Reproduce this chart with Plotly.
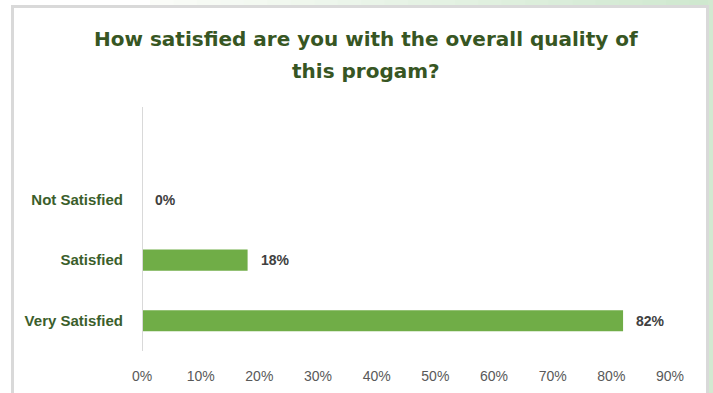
import plotly.graph_objects as go

# Survey responses
categories = ["Very Satisfied", "Satisfied", "Not Satisfied"]
shares = [0.82, 0.18, 0.0]
tick_values = [0, 0.1, 0.2, 0.3, 0.4, 0.5, 0.6, 0.7, 0.8, 0.9]
title_lines = ["How satisfied are you with the overall quality of", "this progam?"]

W, H = 713, 393
L, R, T, B = 142, 43, 107, 42
PW, PH = W - L - R, H - T - B


def px(x):
    return (x - L) / PW


def py(y):
    return 1 - (y - T) / PH


positions = list(range(len(categories)))

fig = go.Figure()
fig.add_trace(go.Bar(
    x=shares,
    y=positions,
    orientation="h",
    width=0.35,
    marker=dict(color="#70AD47", line=dict(width=0)),
    hoverinfo="skip",
))

annotations = []
# value labels just past the end of each bar
for v, p in zip(shares, positions):
    annotations.append(dict(
        x=v, y=p, xref="x", yref="y", xanchor="left", yanchor="middle",
        xshift=11, showarrow=False, text=f"{v:.0%}",
        font=dict(family="Liberation Sans", size=14, color="#404040", weight="bold"),
    ))
# two-line centred title
for i, line in enumerate(title_lines):
    annotations.append(dict(
        x=px(366), y=py(39 + 32 * i), xref="paper", yref="paper",
        xanchor="center", yanchor="middle", showarrow=False, text=line,
        font=dict(family="DejaVu Sans", size=20, color="#375623", weight="bold"),
    ))

shapes = []
# soft green frame along the top edge, fading in from the left
steps = 24
for i in range(steps):
    t = i / (steps - 1)
    a = 250 - t * (250 - 207)
    g = 252 - t * (252 - 232)
    c = 248 - t * (248 - 207)
    xa = 150 + i * (W - 150) / steps
    xb = 150 + (i + 1) * (W - 150) / steps + 1
    shapes.append(dict(type="rect", xref="paper", yref="paper",
                       x0=px(xa), x1=px(xb), y0=py(6), y1=py(-1),
                       fillcolor=f"rgb({a:.0f},{g:.0f},{c:.0f})",
                       line=dict(width=0), layer="below"))
# green strip on the right edge
shapes.append(dict(type="rect", xref="paper", yref="paper",
                   x0=px(708), x1=px(W + 1), y0=py(H + 1), y1=py(-1),
                   fillcolor="#D2E9D0", line=dict(width=0), layer="below"))
# white chart box with grey border
shapes.append(dict(type="rect", xref="paper", yref="paper",
                   x0=px(12.5), x1=px(707.5), y0=py(H + 30), y1=py(6.5),
                   fillcolor="white", line=dict(color="#D9D9D9", width=3),
                   layer="below"))
# vertical category axis line
shapes.append(dict(type="line", xref="x", yref="paper", x0=0, x1=0, y0=0, y1=1,
                   line=dict(color="#D9D9D9", width=2)))

fig.update_layout(
    width=W, height=H,
    margin=dict(l=L, r=R, t=T, b=B),
    paper_bgcolor="white",
    plot_bgcolor="rgba(0,0,0,0)",
    showlegend=False,
    shapes=shapes,
    annotations=annotations,
    xaxis=dict(
        range=[0, 0.9],
        tickvals=tick_values,
        tickformat=".0%",
        showgrid=False,
        zeroline=False,
        showline=False,
        ticks="",
        automargin=False,
        ticklabelstandoff=15,
        tickfont=dict(family="Liberation Sans", size=14, color="#595959"),
        fixedrange=True,
    ),
    yaxis=dict(
        range=[-0.5, 3.53],
        tickvals=positions,
        ticktext=categories,
        showgrid=False,
        zeroline=False,
        showline=False,
        ticks="",
        automargin=False,
        ticklabelstandoff=18,
        tickfont=dict(family="Liberation Sans", size=15, color="#3B5E2B", weight="bold"),
        fixedrange=True,
    ),
)

fig.write_html("out.html")
